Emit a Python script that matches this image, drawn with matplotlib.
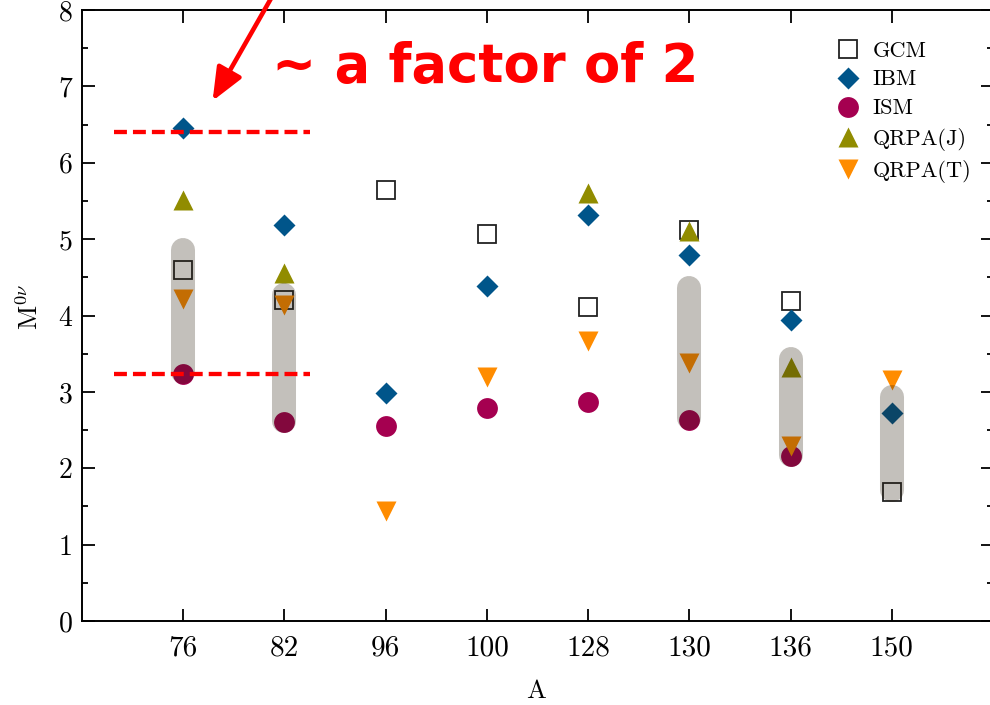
import numpy as np
import matplotlib
matplotlib.use("Agg")
import matplotlib.pyplot as plt

plt.rcParams.update({
    "font.family": "serif",
    "font.serif": ["cmr10"],
    "mathtext.fontset": "cm",
    "axes.formatter.use_mathtext": True,
    "axes.unicode_minus": False,
})

# Mass numbers of the decaying nuclei
nuclei = ["76", "82", "96", "100", "128", "130", "136", "150"]

# Nuclear matrix elements per model
gcm = [4.59, 4.20, 5.64, 5.07, 4.11, 5.12, 4.19, 1.69]
ibm = [6.45, 5.19, 2.98, 4.38, 5.32, 4.79, 3.94, 2.72]
ism = [3.24, 2.61, 2.55, 2.79, 2.87, 2.63, 2.16, np.nan]
qrpa_j = [5.51, 4.56, np.nan, np.nan, 5.61, 5.11, 3.33, np.nan]
qrpa_t = [4.21, 4.14, 1.44, 3.20, 3.67, 3.38, 2.29, 3.15]

# Shaded spread bands (nucleus, low, high)
band_nuclei = ["76", "82", "130", "136", "150"]
band_low = [3.26, 2.62, 2.66, 2.18, 1.72]
band_high = [4.86, 4.27, 4.36, 3.43, 2.93]

# Reference levels marking the factor-of-two spread for A = 76
ref_levels = [6.40, 3.23]

fig = plt.figure(figsize=(9.9, 7.05), dpi=100)
ax = fig.add_axes([82 / 990, 1 - 621 / 705, 911 / 990, 611 / 705])

x = np.arange(len(nuclei))

series = [
    ("GCM", gcm, dict(marker="s", ms=13, mfc="white", mec="#222222", mew=1.3)),
    ("IBM", ibm, dict(marker="D", ms=11.5, mfc="#00558a", mec="none")),
    ("ISM", ism, dict(marker="o", ms=15, mfc="#a50050", mec="none")),
    ("QRPA(J)", qrpa_j, dict(marker="^", ms=15, mfc="#918c00", mec="none")),
    ("QRPA(T)", qrpa_t, dict(marker="v", ms=15, mfc="#ff8c00", mec="none")),
]
for i, (name, vals, style) in enumerate(series):
    ax.plot(x, vals, linestyle="none", label=name, zorder=3 + i, **style)

# Translucent capsule bands drawn over the markers
for nuc, lo, hi in zip(band_nuclei, band_low, band_high):
    xi = nuclei.index(nuc)
    ax.plot([xi, xi], [lo, hi], color=(0.16, 0.12, 0.05), alpha=0.28,
            lw=17.3, solid_capstyle="round", zorder=10)

# Dashed reference lines
for lvl in ref_levels:
    ax.plot([-0.68, 1.25], [lvl, lvl], color="#ff0000", lw=3.1,
            dashes=(3.0, 1.4), zorder=11, clip_on=False)

ax.set_xlim(-1, 8)
ax.set_ylim(0, 8)
ax.set_xticks(x)
ax.set_xticklabels(nuclei)
ax.set_yticks(np.arange(0, 9, 1))
ax.set_yticklabels([str(v) for v in range(9)])
ax.set_yticks(np.arange(0.5, 8, 1), minor=True)

ax.tick_params(axis="both", which="both", direction="in", top=True, right=True,
               width=1.3)
ax.tick_params(axis="both", which="major", length=9)
ax.tick_params(axis="y", which="minor", length=4.5)
ax.tick_params(axis="x", which="major", labelsize=21, pad=10)
ax.tick_params(axis="y", which="major", labelsize=20, pad=7)
for sp in ax.spines.values():
    sp.set_linewidth(1.4)

ax.set_xlabel("A", fontsize=19)
ax.xaxis.set_label_coords(0.498, -0.115)
ax.xaxis.label.set_va("center")
ax.set_ylabel(r"$\mathrm{M}^{0\nu}$", fontsize=19)
ax.yaxis.set_label_coords(-0.058, 0.514)
ax.yaxis.label.set_va("center")

leg = ax.legend(loc="upper right", bbox_to_anchor=(0.991, 0.971),
                frameon=False, fontsize=16, labelspacing=0.42,
                handletextpad=0.5, handlelength=1.2, borderaxespad=0.2)

# Annotation: arrow and caption
ax.annotate("", xy=(0.29, 6.81), xytext=(0.97, 8.39),
            xycoords="data", textcoords="data", annotation_clip=False,
            arrowprops=dict(arrowstyle="-|>,head_length=1.0,head_width=0.42",
                            color="#ff0000", lw=3.3, shrinkA=0, shrinkB=0,
                            mutation_scale=20))
fig.text(272 / 990, 1 - 82 / 705, "~ a factor of 2", color="#ff0000",
         fontsize=38, fontweight="bold", family="DejaVu Sans", va="baseline")

fig.savefig("out.png", dpi=100)
